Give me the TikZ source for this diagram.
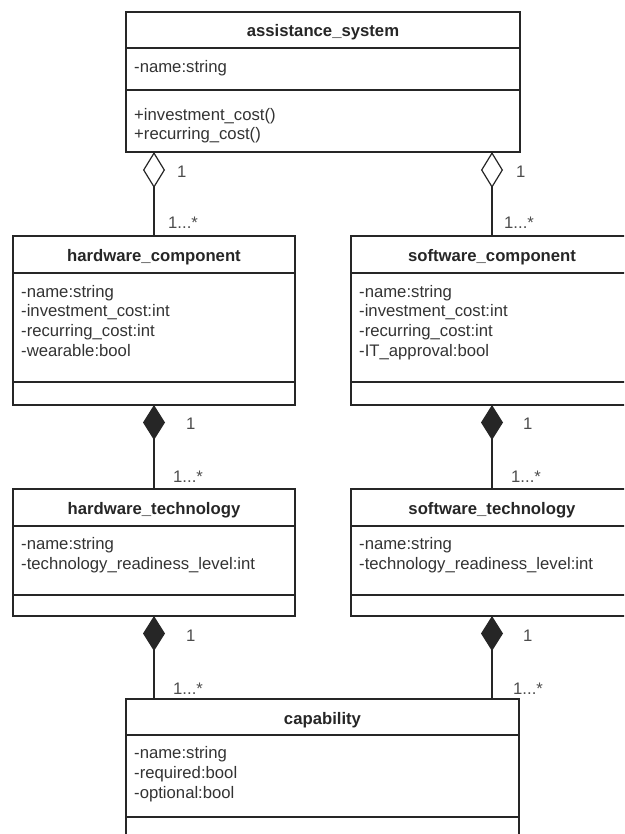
\documentclass[tikz,border=0pt]{standalone}
\usepackage{fontspec}
\setmainfont{Liberation Sans}
\usetikzlibrary{arrows.meta}
\begin{document}
\begin{tikzpicture}[x=1pt,y=-1pt,
  box/.style={draw=black!85, line width=1.2pt, anchor=north west, inner sep=0pt, outer sep=0pt},
  sepline/.style={draw=black!85, line width=1.2pt},
  title/.style={font=\fontsize{16.7}{20}\selectfont\bfseries, text=black!85, anchor=base, inner sep=0pt},
  attr/.style={font=\fontsize{16.7}{19.6}\selectfont, text=black!80, anchor=base west, align=left, inner sep=0pt},
  mult/.style={font=\fontsize{16.7}{20}\selectfont, text=black!70, anchor=base west, inner sep=0pt},
  aggr/.style={draw=black!85, line width=1.2pt, {Diamond[open, length=36pt, width=22pt]}-},
  comp/.style={draw=black!85, line width=1.2pt, {Diamond[length=35pt, width=22pt]}-},
]
\useasboundingbox (0,0) rectangle (624,834);
\clip (0,0) rectangle (624,834);

% class boxes
\node[box, minimum width=394pt, minimum height=140pt] (as) at (126,12) {};
\node[box, minimum width=282pt, minimum height=169pt] (hc) at (13,236) {};
\node[box, minimum width=282pt, minimum height=169pt] (sc) at (351,236) {};
\node[box, minimum width=282pt, minimum height=127pt] (ht) at (13,489) {};
\node[box, minimum width=282pt, minimum height=127pt] (st) at (351,489) {};
\node[box, minimum width=393pt, minimum height=170pt] (cap) at (126,699) {};

% compartment separators
\draw[sepline] (126,48) -- (520,48);
\draw[sepline] (126,90) -- (520,90);
\draw[sepline] (13,273) -- (295,273);
\draw[sepline] (13,382) -- (295,382);
\draw[sepline] (351,273) -- (633,273);
\draw[sepline] (351,382) -- (633,382);
\draw[sepline] (13,526) -- (295,526);
\draw[sepline] (13,595) -- (295,595);
\draw[sepline] (351,526) -- (633,526);
\draw[sepline] (351,595) -- (633,595);
\draw[sepline] (126,735) -- (519,735);
\draw[sepline] (126,817) -- (519,817);

% texts (anchor = baseline of the last line)
\node[title] (as-t) at (323,36.5) {assistance\_system};
\node[attr] (as-a) at (134,72.5) {-name:string};
\node[attr] (as-m) at (134,140) {+investment\_cost()\\+recurring\_cost()};

\node[title] (hc-t) at (154,261) {hardware\_component};
\node[attr] (hc-a) at (21,356) {-name:string\\-investment\_cost:int\\-recurring\_cost:int\\-wearable:bool};

\node[title] (sc-t) at (492,261) {software\_component};
\node[attr] (sc-a) at (359,356) {-name:string\\-investment\_cost:int\\-recurring\_cost:int\\-IT\_approval:bool};

\node[title] (ht-t) at (154,514) {hardware\_technology};
\node[attr] (ht-a) at (21,569) {-name:string\\-technology\_readiness\_level:int};

\node[title] (st-t) at (492,514) {software\_technology};
\node[attr] (st-a) at (359,569) {-name:string\\-technology\_readiness\_level:int};

\node[title] (cap-t) at (322.5,724) {capability};
\node[attr] (cap-a) at (134,798) {-name:string\\-required:bool\\-optional:bool};

% connectors
\draw[aggr] (as.south -| hc.north) -- (hc.north);
\draw[aggr] (as.south -| sc.north) -- (sc.north);
\draw[comp] (hc.south) -- (ht.north);
\draw[comp] (sc.south) -- (st.north);
\draw[comp] (ht.south) -- (cap.north -| ht.south);
\draw[comp] (st.south) -- (cap.north -| st.south);

% multiplicities
\node[mult] (m1) at (177,178) {1};
\node[mult] (m2) at (168,229) {1...*};
\node[mult] (m3) at (516,178) {1};
\node[mult] (m4) at (504,229) {1...*};
\node[mult] (m5) at (186,429) {1};
\node[mult] (m6) at (173,482) {1...*};
\node[mult] (m7) at (523,429) {1};
\node[mult] (m8) at (511,482) {1...*};
\node[mult] (m9) at (186,641) {1};
\node[mult] (m10) at (173,694) {1...*};
\node[mult] (m11) at (523,641) {1};
\node[mult] (m12) at (513,694) {1...*};
\end{tikzpicture}
\end{document}
